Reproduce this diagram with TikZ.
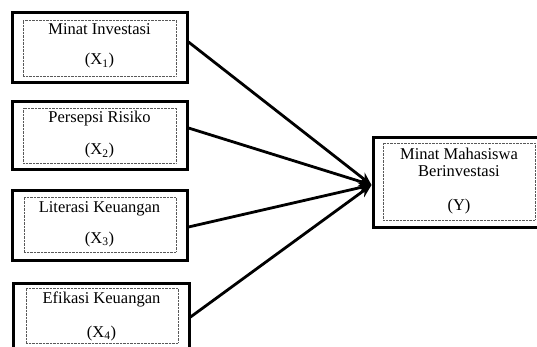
\documentclass[tikz,border=0pt]{standalone}
\usepackage{fontspec}
\setmainfont{Liberation Serif}
\usetikzlibrary{arrows.meta}
\begin{document}
\begin{tikzpicture}[x=1pt,y=-1pt,
  outerbox/.style={draw=black,line width=3pt,rectangle,inner sep=0pt,fill=white},
  innerbox/.style={draw=black!65,line width=0.7pt,dash pattern=on 0.7pt off 0.7pt,rectangle,inner sep=0pt},
  txt/.style={font=\fontsize{16.5}{19}\selectfont,inner sep=0pt,anchor=base,text=black},
  arr/.style={line width=2.8pt,-{Stealth[length=13pt,width=11pt]}}]
\useasboundingbox (0,0) rectangle (537,347);
\fill[white] (0,0) rectangle (537,347);
\begin{scope}
\clip (0,0) rectangle (537,347);
% boxes
\node[outerbox,minimum width=175pt,minimum height=70pt] (b1) at (99.5,48) {};
\node[innerbox,minimum width=153pt,minimum height=56pt] (i1) at (99.5,48) {};
\node[outerbox,minimum width=175pt,minimum height=68pt] (b2) at (99.5,136) {};
\node[innerbox,minimum width=153pt,minimum height=55pt] (i2) at (99.5,135.5) {};
\node[outerbox,minimum width=175pt,minimum height=69pt] (b3) at (99.5,225.5) {};
\node[innerbox,minimum width=152pt,minimum height=55pt] (i3) at (100,224.5) {};
\node[outerbox,minimum width=176pt,minimum height=72pt] (b4) at (101,319) {};
\node[innerbox,minimum width=152pt,minimum height=55pt] (i4) at (102,315.5) {};
\node[outerbox,minimum width=172pt,minimum height=89pt] (by) at (459,182.5) {};
\node[innerbox,minimum width=152pt,minimum height=77pt] (iy) at (459,181.5) {};
% texts
\node[txt] (t1a) at (99.5,35) {Minat Investasi};
\node[txt] (t1b) at (99.5,65) {(X\textsubscript{1})};
\node[txt] (t2a) at (99.5,123) {Persepsi Risiko};
\node[txt] (t2b) at (99.5,155) {(X\textsubscript{2})};
\node[txt] (t3a) at (99.5,212) {Literasi Keuangan};
\node[txt] (t3b) at (99.5,243) {(X\textsubscript{3})};
\node[txt] (t4a) at (101.5,303) {Efikasi Keuangan};
\node[txt] (t4b) at (101.5,337) {(X\textsubscript{4})};
\node[txt] (tya) at (459,160) {Minat Mahasiswa};
\node[txt] (tyb) at (459,177) {Berinvestasi};
\node[txt] (tyc) at (459,210) {(Y)};
% connector ends
\coordinate (s1) at (b1.east |- 0,42);
\coordinate (s2) at (b2.east |- 0,128);
\coordinate (s3) at (b3.east |- 0,227);
\coordinate (s4) at (b4.east |- 0,317);
\coordinate (ye) at (by.west |- 0,185);
\draw[arr] (s1) -- (ye);
\draw[arr] (s2) -- (ye);
\draw[arr] (s3) -- (ye);
\draw[arr] (s4) -- (ye);
\end{scope}
\end{tikzpicture}
\end{document}
